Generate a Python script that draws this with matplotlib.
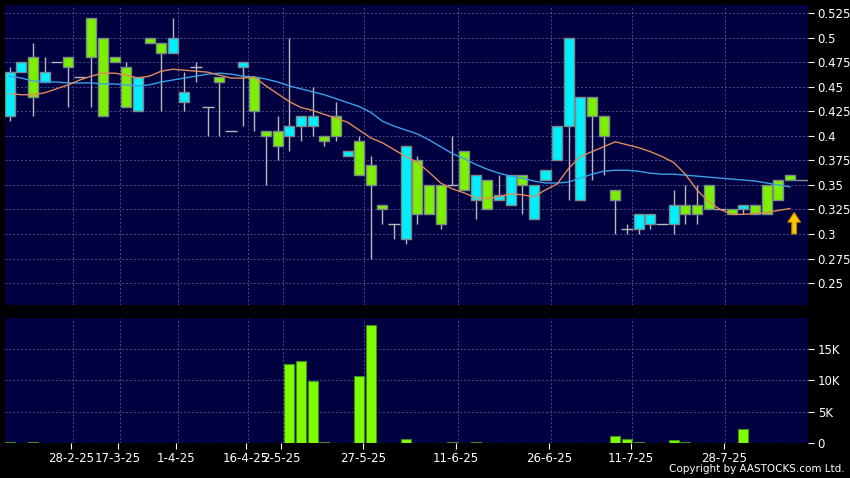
import matplotlib
matplotlib.use("Agg")
import matplotlib.pyplot as plt
import numpy as np

# ---- data (one entry per trading session) ----
opens = [0.42, 0.465, 0.48, 0.455, 0.475, 0.48, 0.46, 0.52, 0.50, 0.48,
         0.47, 0.425, 0.50, 0.495, 0.485, 0.435, 0.47, 0.43, 0.46, 0.405,
         0.47, 0.46, 0.405, 0.405, 0.40, 0.41, 0.41, 0.40, 0.42, 0.38,
         0.395, 0.37, 0.33, 0.31, 0.295, 0.375, 0.35, 0.35, 0.35, 0.385,
         0.335, 0.355, 0.335, 0.33, 0.36, 0.315, 0.355, 0.375, 0.41, 0.335,
         0.44, 0.42, 0.345, 0.305, 0.305, 0.31, 0.31, 0.31, 0.33, 0.33,
         0.35, 0.325, 0.325, 0.325, 0.33, 0.35, 0.355, 0.36]
highs = [0.47, 0.475, 0.495, 0.48, 0.475, 0.48, 0.46, 0.52, 0.50, 0.48,
         0.475, 0.46, 0.50, 0.495, 0.52, 0.465, 0.475, 0.43, 0.46, 0.405,
         0.475, 0.46, 0.405, 0.42, 0.50, 0.42, 0.45, 0.40, 0.435, 0.385,
         0.40, 0.38, 0.33, 0.31, 0.39, 0.38, 0.35, 0.35, 0.40, 0.385,
         0.36, 0.355, 0.36, 0.36, 0.36, 0.35, 0.365, 0.41, 0.50, 0.44,
         0.44, 0.42, 0.345, 0.31, 0.32, 0.32, 0.31, 0.345, 0.35, 0.35,
         0.35, 0.325, 0.325, 0.33, 0.33, 0.35, 0.355, 0.36]
lows = [0.415, 0.465, 0.42, 0.455, 0.475, 0.43, 0.46, 0.43, 0.42, 0.475,
        0.43, 0.425, 0.495, 0.425, 0.485, 0.425, 0.455, 0.40, 0.40, 0.405,
        0.41, 0.405, 0.35, 0.375, 0.385, 0.395, 0.40, 0.39, 0.395, 0.38,
        0.36, 0.275, 0.31, 0.295, 0.29, 0.31, 0.32, 0.305, 0.35, 0.345,
        0.315, 0.325, 0.335, 0.33, 0.32, 0.315, 0.355, 0.375, 0.335, 0.335,
        0.355, 0.36, 0.30, 0.30, 0.30, 0.305, 0.31, 0.30, 0.31, 0.31,
        0.325, 0.325, 0.32, 0.32, 0.32, 0.32, 0.335, 0.355]
closes = [0.465, 0.475, 0.44, 0.465, 0.475, 0.47, 0.46, 0.48, 0.42, 0.475,
          0.43, 0.46, 0.495, 0.485, 0.50, 0.445, 0.47, 0.43, 0.455, 0.405,
          0.475, 0.425, 0.40, 0.39, 0.41, 0.42, 0.42, 0.395, 0.40, 0.385,
          0.36, 0.35, 0.325, 0.31, 0.39, 0.32, 0.32, 0.31, 0.35, 0.345,
          0.36, 0.325, 0.34, 0.36, 0.35, 0.35, 0.365, 0.41, 0.50, 0.44,
          0.42, 0.40, 0.335, 0.305, 0.32, 0.32, 0.31, 0.33, 0.32, 0.32,
          0.325, 0.325, 0.32, 0.33, 0.32, 0.32, 0.335, 0.355]
volumes = [200, 60, 200, 50, 0, 0, 0, 0, 0, 0,
           0, 60, 0, 0, 0, 0, 0, 0, 0, 0,
           60, 50, 50, 0, 12600, 13000, 9900, 200, 100, 0,
           10600, 18800, 100, 100, 700, 0, 0, 0, 150, 0,
           150, 0, 0, 0, 0, 0, 50, 0, 0, 0,
           100, 0, 1200, 700, 250, 80, 0, 500, 200, 100,
           0, 0, 0, 2300, 0, 0, 80, 0]
ma_short = [0.443, 0.442, 0.442, 0.444, 0.448, 0.452, 0.457, 0.461, 0.464, 0.464,
            0.462, 0.459, 0.461, 0.466, 0.468, 0.467, 0.466, 0.465, 0.462, 0.459,
            0.459, 0.460, 0.451, 0.443, 0.435, 0.429, 0.426, 0.422, 0.418, 0.414,
            0.406, 0.398, 0.393, 0.386, 0.379, 0.373, 0.363, 0.352, 0.346, 0.342,
            0.337, 0.336, 0.338, 0.341, 0.340, 0.338, 0.345, 0.351, 0.367, 0.379,
            0.384, 0.389, 0.394, 0.391, 0.388, 0.384, 0.379, 0.373, 0.361, 0.345,
            0.333, 0.325, 0.320, 0.320, 0.321, 0.322, 0.324, 0.326]
ma_long = [0.461, 0.459, 0.456, 0.455, 0.455, 0.454, 0.454, 0.454, 0.453, 0.453,
           0.452, 0.451, 0.452, 0.455, 0.457, 0.459, 0.461, 0.463, 0.464, 0.463,
           0.461, 0.460, 0.458, 0.455, 0.451, 0.448, 0.445, 0.442, 0.438, 0.434,
           0.430, 0.424, 0.415, 0.410, 0.406, 0.402, 0.396, 0.389, 0.382, 0.377,
           0.371, 0.366, 0.362, 0.359, 0.357, 0.354, 0.352, 0.352, 0.353, 0.357,
           0.361, 0.364, 0.365, 0.365, 0.364, 0.362, 0.361, 0.361, 0.360, 0.359,
           0.358, 0.357, 0.356, 0.355, 0.354, 0.352, 0.350, 0.348]
date_idx = [5, 9, 14, 20, 23, 30, 38, 46, 53, 61]
date_labels = ["28-2-25", "17-3-25", "1-4-25", "16-4-25", "2-5-25",
               "27-5-25", "11-6-25", "26-6-25", "11-7-25", "28-7-25"]
price_ticks = [0.25, 0.275, 0.3, 0.325, 0.35, 0.375, 0.4, 0.425, 0.45, 0.475, 0.5, 0.525]
vol_ticks = [0, 5000, 10000, 15000]
vol_labels = ["0", "5K", "10K", "15K"]

BG = "#000040"
GRID = "#4c4c8c"
UP = "#00f0ff"
DOWN = "#7cf000"
TXT = "white"

fig = plt.figure(figsize=(8.5, 4.78), dpi=100)
fig.patch.set_facecolor("black")
ax = fig.add_axes([5 / 850, 173 / 478, 803 / 850, 300 / 478])
axv = fig.add_axes([5 / 850, 34.7 / 478, 803 / 850, 125.3 / 478])

x = np.arange(len(closes))
xmin, xmax = -0.41, 68.54


def style(a):
    a.set_facecolor(BG)
    for s in a.spines.values():
        s.set_visible(False)
    a.set_xlim(xmin, xmax)
    a.yaxis.tick_right()
    a.tick_params(axis="y", colors=TXT, length=4, width=0.8, labelsize=8.5, pad=3)
    a.grid(axis="y", color=GRID, linestyle=(0, (2, 2)), linewidth=0.7)
    for d in date_idx:
        a.axvline(d + 0.45, color=GRID, linestyle=(0, (2, 2)), linewidth=0.7, zorder=0.5)
    a.set_axisbelow(True)


style(ax)
style(axv)

# candles
bw = 0.86
for i in x:
    o, h, l, c = opens[i], highs[i], lows[i], closes[i]
    ax.vlines(i, l, h, color="#b8b8b8", linewidth=1, zorder=2)
    if c == o:
        ax.hlines(c, i - 0.5, i + 0.5, color="#b8b8b8", linewidth=1, zorder=2)
    else:
        col = UP if c > o else DOWN
        ax.bar(i, abs(c - o), bottom=min(o, c), width=bw, color=col,
               edgecolor="#7a8a8a", linewidth=1, zorder=3)

ax.plot(x, ma_long, color="#3aa0e8", linewidth=1, zorder=4)
ax.plot(x, ma_short, color="#e08a5a", linewidth=1, zorder=4)
ax.hlines(closes[-1], x[-1] + 0.45, xmax, color="#909090", linewidth=1, zorder=2)
ax.arrow(x[-1] + 0.35, lows[-1] - 0.055, 0, 0.012, width=0.4, head_width=1.1,
         head_length=0.01, length_includes_head=False, facecolor="#ffc800",
         edgecolor="#c08000", linewidth=0.8, zorder=5)

ax.set_ylim(0.2276, 0.5335)
ax.set_yticks(price_ticks)
ax.set_yticklabels([f"{v:g}" for v in price_ticks])
ax.set_xticks([])

# volume
axv.bar(x, volumes, width=bw, color="#80ff00", edgecolor="#3f8f20", linewidth=0.8, zorder=3)
axv.set_ylim(0, 19840)
axv.set_yticks(vol_ticks)
axv.set_yticklabels(vol_labels)
axv.set_xticks([d + 0.3 for d in date_idx])
axv.set_xticklabels(date_labels)
axv.tick_params(axis="x", colors=TXT, length=4, width=0.8, labelsize=8.5, pad=2)

fig.text(0.994, 0.008, "Copyright by AASTOCKS.com Ltd.", color=TXT, fontsize=7.5,
         ha="right", va="bottom")

fig.savefig("out.png", dpi=100, facecolor=fig.get_facecolor())
